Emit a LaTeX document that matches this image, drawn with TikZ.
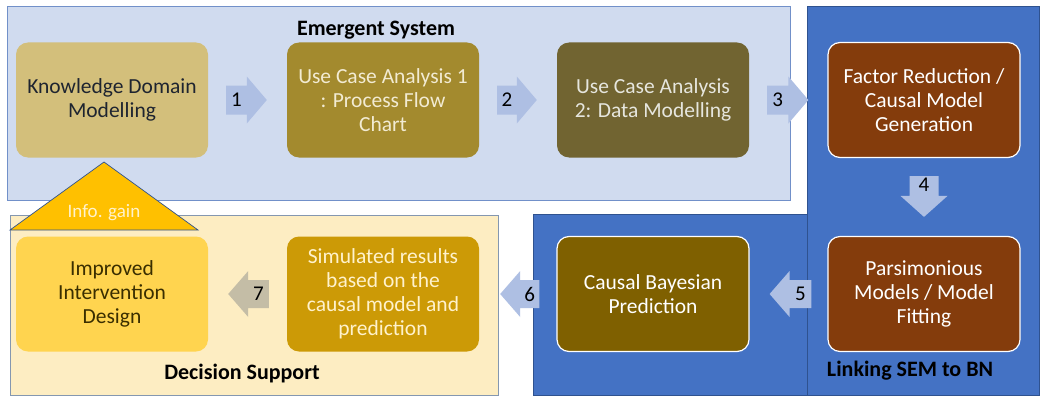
\documentclass[tikz,border=0pt]{standalone}
\usepackage{fontspec}
\setmainfont{Carlito}
\usetikzlibrary{calc}

\definecolor{panelTop}{HTML}{D0DBEF}
\definecolor{panelTopLine}{HTML}{7190C9}
\definecolor{panelDec}{HTML}{FDEDC2}
\definecolor{panelDecLine}{HTML}{8497B0}
\definecolor{panelBlue}{HTML}{4472C4}
\definecolor{panelBlueLine}{HTML}{2F528F}
\definecolor{flowBlue}{HTML}{AEBFE3}
\definecolor{flowGrey}{HTML}{C4BDA6}
\definecolor{gainFill}{HTML}{FFC000}
\definecolor{cKDM}{HTML}{D3BF7B}
\definecolor{cUCA1}{HTML}{A38A2E}
\definecolor{cUCA2}{HTML}{716431}
\definecolor{cBrown}{HTML}{843C0C}
\definecolor{cCBP}{HTML}{7F6000}
\definecolor{cSim}{HTML}{CC9A06}
\definecolor{cImp}{HTML}{FFD44F}
\definecolor{tDark}{HTML}{1E2430}
\definecolor{tCream}{HTML}{F2EBD3}
\definecolor{tGrey}{HTML}{E6E6DE}
\definecolor{tPale}{HTML}{FFF2CC}
\definecolor{tOlive}{HTML}{3A2E00}

% right-, left- and down-pointing block arrows between two named points
\newcommand\blockR[4]{%
  \fill[#4] let \p1=(#1), \p2=(#2) in
    (\x1,\y1+14.5pt) -- (\x2-20pt,\y1+14.5pt) -- (\x2-20pt,\y1+23.5pt) -- (\x2,\y1)
    -- (\x2-20pt,\y1-23.5pt) -- (\x2-20pt,\y1-14.5pt) -- (\x1,\y1-14.5pt) -- cycle;
  \path let \p1=(#1), \p2=(#2) in node[num] at ({(\x1+\x2-20pt)/2},\y1) {#3};}
\newcommand\blockL[4]{%
  \fill[#4] let \p1=(#1), \p2=(#2) in
    (\x1,\y1+14pt) -- (\x2+20pt,\y1+14pt) -- (\x2+20pt,\y1+23pt) -- (\x2,\y1)
    -- (\x2+20pt,\y1-23pt) -- (\x2+20pt,\y1-14pt) -- (\x1,\y1-14pt) -- cycle;
  \path let \p1=(#1), \p2=(#2) in node[num] at ({(\x1+\x2+20pt)/2},\y1) {#3};}
\newcommand\blockD[4]{%
  \fill[#4] let \p1=(#1), \p2=(#2) in
    (\x1-14.5pt,\y1) -- (\x1-14.5pt,\y2+21pt) -- (\x1-23.5pt,\y2+21pt) -- (\x1,\y2)
    -- (\x1+23.5pt,\y2+21pt) -- (\x1+14.5pt,\y2+21pt) -- (\x1+14.5pt,\y1) -- cycle;
  \path let \p1=(#1) in node[num] at (\x1,\y1-9pt) {#3};}

\begin{document}
\begin{tikzpicture}[x=1pt,y=-1pt,
  box/.style={rounded corners=12pt, minimum width=192pt, minimum height=115pt,
    align=center, inner sep=4pt, font=\fontsize{21.5}{24}\selectfont},
  rim/.style={draw=white, line width=1.2pt},
  num/.style={font=\fontsize{21}{22}\selectfont, text=black, inner sep=0pt},
  heading/.style={font=\fontsize{22}{24}\selectfont\bfseries, text=black}]

\useasboundingbox (0,0) rectangle (1040,396);
\fill[white] (0,0) rectangle (1040,396);

% group panels
\filldraw[fill=panelTop, draw=panelTopLine, line width=0.9pt] (7,6) rectangle (790,200);
\filldraw[fill=panelDec, draw=panelDecLine, line width=0.9pt] (10,215) rectangle (498,395);
\filldraw[fill=panelBlue, draw=panelBlueLine, line width=0.9pt] (533,214) rectangle (807,395);
\filldraw[fill=panelBlue, draw=panelBlueLine, line width=0.9pt] (807,6) rectangle (1039,395);

% information gain feedback
\filldraw[fill=gainFill, draw=panelBlueLine, line width=0.7pt] (10,230) -- (104,162) -- (198,230) -- cycle;
\node[font=\fontsize{19}{20}\selectfont, text=tPale] (gain) at (104,213) {Info. gain};

% process steps
\node[box, fill=cKDM, text=tDark] (kdm) at (112,100) {Knowledge Domain\\Modelling};
\node[box, fill=cUCA1, text=tCream] (uca1) at (383,100) {Use Case Analysis 1\\: Process Flow\\Chart};
\node[box, fill=cUCA2, text=tGrey] (uca2) at (653,100) {Use Case Analysis\\2: Data Modelling};
\node[box, rim, fill=cBrown, text=white] (fr) at (924,100) {Factor Reduction /\\Causal Model\\Generation};
\node[box, rim, fill=cBrown, text=white] (pars) at (924,294) {Parsimonious\\Models / Model\\Fitting};
\node[box, rim, fill=cCBP, text=white] (cbp) at (653,294) {Causal Bayesian\\Prediction};
\node[box, fill=cSim, text=tPale] (sim) at (383,294) {Simulated results\\based on the\\causal model and\\prediction};
\node[box, fill=cImp, text=tOlive] (imp) at (112,294) {Improved\\Intervention\\Design};

% arrow end points
\coordinate (t1) at ($(kdm.east)+(18,0)$);   \coordinate (h1) at ($(uca1.west)+(-20,0)$);
\coordinate (t2) at ($(uca1.east)+(18,0)$);  \coordinate (h2) at ($(uca2.west)+(-20,0)$);
\coordinate (t3) at ($(uca2.east)+(18,0)$);  \coordinate (h3) at ($(fr.west)+(-19,0)$);
\coordinate (t4) at ($(fr.south)+(0,18)$);   \coordinate (h4) at ($(pars.north)+(0,-19)$);
\coordinate (t5) at ($(pars.west)+(-16,0)$); \coordinate (h5) at ($(cbp.east)+(20,0)$);
\coordinate (t6) at ($(cbp.west)+(-17,0)$);  \coordinate (h6) at ($(sim.east)+(21,0)$);
\coordinate (t7) at ($(sim.west)+(-18,0)$);  \coordinate (h7) at ($(imp.east)+(20,0)$);

\blockR{t1}{h1}{1}{flowBlue}
\blockR{t2}{h2}{2}{flowBlue}
\blockR{t3}{h3}{3}{flowBlue}
\blockD{t4}{h4}{4}{flowBlue}
\blockL{t5}{h5}{5}{flowBlue}
\blockL{t6}{h6}{6}{flowBlue}
\blockL{t7}{h7}{7}{flowGrey}

% group titles
\node[heading] (es) at (376,30) {Emergent System};
\node[heading] (ds) at (242,374) {Decision Support};
\node[heading] (ln) at (910,371) {Linking SEM to BN};
\end{tikzpicture}
\end{document}
